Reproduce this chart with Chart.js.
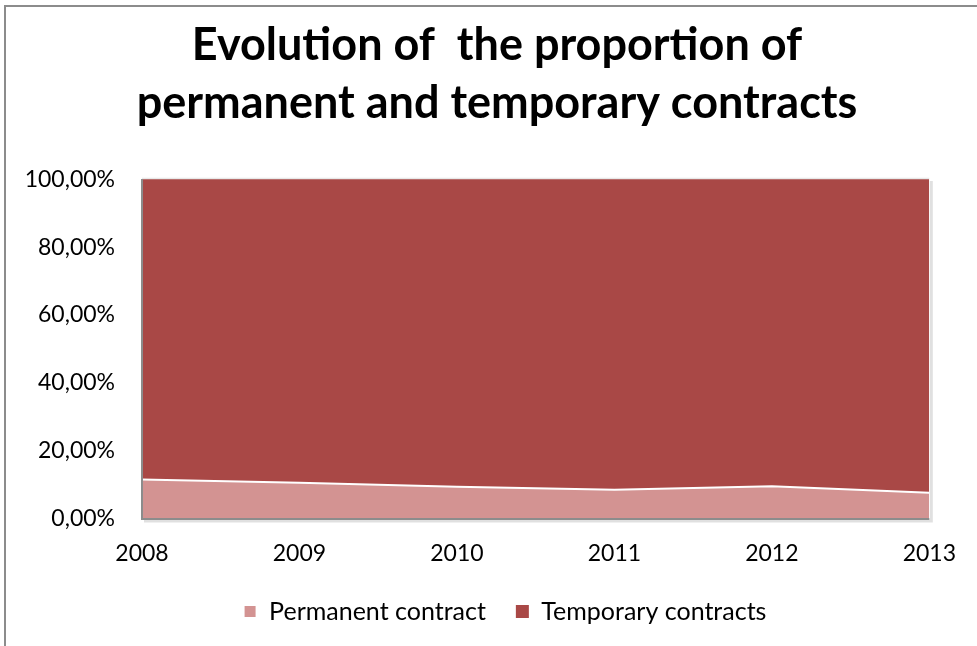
<!DOCTYPE html>
<html>
<head>
<meta charset="utf-8">
<script src="https://cdn.jsdelivr.net/npm/chart.js@4/dist/chart.umd.min.js"></script>
<style>
  html, body { margin: 0; padding: 0; background: #fff; }
  #wrap { position: relative; width: 977px; height: 646px; }
</style>
</head>
<body>
<div id="wrap"><canvas id="c" width="977" height="646"></canvas></div>
<script>
const categories = ['2008', '2009', '2010', '2011', '2012', '2013'];
const permanentShare = [11.6, 10.7, 9.5, 8.6, 9.6, 7.7];
const temporaryShare = [88.4, 89.3, 90.5, 91.4, 90.4, 92.3];
const yTickValues = [0, 20, 40, 60, 80, 100];
const yTickLabels = ['0,00%', '20,00%', '40,00%', '60,00%', '80,00%', '100,00%'];
const seriesNames = ['Permanent contract', 'Temporary contracts'];
const titleLines = ['Evolution of  the proportion of', 'permanent and temporary contracts'];

const FONT = 'Lato, "Open Sans", sans-serif';

const frame = {
  id: 'frame',
  beforeDraw(chart) {
    // centre the title and legend on the whole frame rather than the padded box
    if (chart.titleBlock) { chart.titleBlock.left = 17; chart.titleBlock.right = 977; }
    if (chart.legend) {
      chart.legend.left = 33; chart.legend.right = 977;
      chart.legend.adjustHitBoxes();
    }
    const ctx = chart.ctx;
    ctx.save();
    ctx.fillStyle = '#fff';
    ctx.fillRect(0, 0, chart.width, chart.height);
    ctx.strokeStyle = '#8c8c8c';
    ctx.lineWidth = 2;
    ctx.beginPath();
    ctx.moveTo(5, chart.height);
    ctx.lineTo(5, 6);
    ctx.lineTo(chart.width, 6);
    ctx.stroke();
    ctx.restore();
  },
  afterDatasetsDraw(chart) {
    const a = chart.chartArea;
    const ctx = chart.ctx;
    ctx.save();
    ctx.strokeStyle = 'rgba(0,0,0,0.12)';
    ctx.lineWidth = 3;
    ctx.beginPath();
    ctx.moveTo(a.right + 2, a.top + 2);
    ctx.lineTo(a.right + 2, a.bottom + 2);
    ctx.lineTo(a.left + 2, a.bottom + 2);
    ctx.stroke();
    ctx.strokeStyle = '#e8e8e8';
    ctx.lineWidth = 1.5;
    ctx.beginPath();
    ctx.moveTo(a.left, a.top - 0.5);
    ctx.lineTo(a.right, a.top - 0.5);
    ctx.stroke();
    ctx.strokeStyle = '#8c8c8c';
    ctx.lineWidth = 2;
    ctx.beginPath();
    ctx.moveTo(a.left, a.top);
    ctx.lineTo(a.left, a.bottom);
    ctx.lineTo(a.right, a.bottom);
    ctx.stroke();
    ctx.restore();
  }
};

new Chart(document.getElementById('c'), {
  type: 'line',
  data: {
    labels: categories,
    datasets: [
      {
        label: seriesNames[0],
        data: permanentShare,
        backgroundColor: '#D39392',
        borderColor: '#ffffff',
        borderWidth: 2,
        fill: 'origin',
        pointRadius: 0,
        tension: 0
      },
      {
        label: seriesNames[1],
        data: temporaryShare,
        backgroundColor: '#A94846',
        borderColor: '#A94846',
        borderWidth: 0,
        fill: '-1',
        pointRadius: 0,
        tension: 0
      }
    ]
  },
  plugins: [frame],
  options: {
    responsive: false,
    animation: false,
    layout: { padding: { top: 16, left: 0, right: 44, bottom: 12 } },
    plugins: {
      title: {
        display: true,
        text: titleLines,
        color: '#000',
        font: { family: FONT, size: 45, weight: 'bold', lineHeight: 1.29 },
        padding: { top: 0, bottom: 47 }
      },
      legend: {
        display: true,
        position: 'bottom',
        labels: {
          color: '#000',
          font: { family: FONT, size: 25 },
          boxWidth: 13,
          boxHeight: 13,
          padding: 30
        }
      },
      tooltip: { enabled: false }
    },
    scales: {
      x: {
        offset: false,
        grid: { display: false, drawTicks: false },
        border: { display: false },
        ticks: { color: '#000', font: { family: FONT, size: 23 }, padding: 21, maxRotation: 0 },
        afterFit(scale) { scale.height = 50; }
      },
      y: {
        stacked: true,
        min: 0,
        max: 100,
        afterBuildTicks(scale) { scale.ticks = yTickValues.map(v => ({ value: v })); },
        grid: { display: false, drawTicks: false },
        border: { display: false },
        ticks: {
          color: '#000',
          font: { family: FONT, size: 23 },
          padding: 27,
          callback: (v) => yTickLabels[yTickValues.indexOf(v)]
        },
        afterFit(scale) { scale.width = 142; }
      }
    }
  }
});
</script>
</body>
</html>
